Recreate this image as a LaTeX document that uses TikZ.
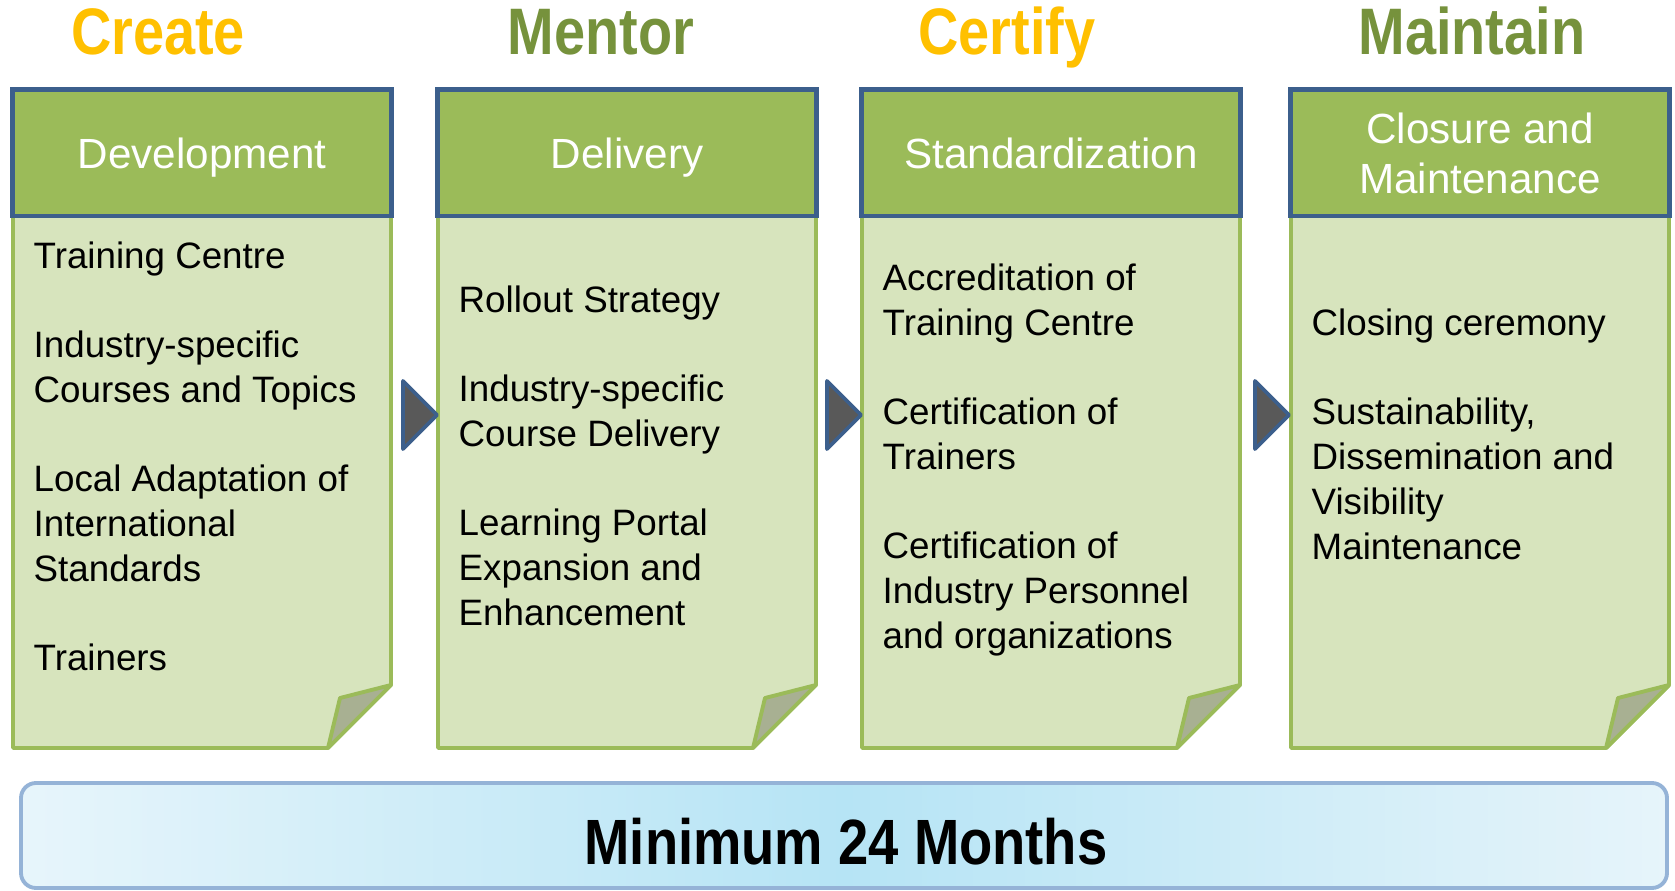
\documentclass[tikz,border=0pt]{standalone}
\usepackage{fontspec}
\usepackage{graphicx}
\setmainfont{Liberation Sans}
\definecolor{hdgreen}{RGB}{155,187,89}
\definecolor{hdblue}{RGB}{60,95,140}
\definecolor{bodygreen}{RGB}{215,228,189}
\definecolor{foldgrey}{RGB}{168,176,146}
\definecolor{ttlorange}{RGB}{255,192,0}
\definecolor{ttlgreen}{RGB}{118,146,60}
\definecolor{arrowgrey}{RGB}{89,89,89}
\definecolor{barblue}{RGB}{149,179,215}
\tikzset{
  header/.style={draw=hdblue,fill=hdgreen,line width=1.4pt,minimum width=3.78cm,minimum height=1.26cm,text=white,align=center,font=\fontsize{12}{14.2}\selectfont},
  page/.style={draw=hdgreen,fill=bodygreen,line width=1.1pt,line join=round},
  fold/.style={draw=hdgreen,fill=foldgrey,line width=1.1pt,line join=round},
  items/.style={anchor=north west,inner sep=0pt,align=left,font=\fontsize{10.45}{12.8}\selectfont},
  phase/.style={anchor=base,inner sep=0pt,font=\fontsize{18.7}{20}\selectfont\bfseries},
  pointer/.style={draw=hdblue,fill=arrowgrey,line width=1.1pt,line join=round},
  bar/.style={draw=barblue,line width=1.1pt,rounded corners=0.15cm,left color={rgb,255:red,231;green,245;blue,251},right color={rgb,255:red,230;green,244;blue,250},middle color={rgb,255:red,182;green,228;blue,245}}
}
\begin{document}
\begin{tikzpicture}[x=0.01cm,y=-0.01cm]
        \useasboundingbox (0,0) rectangle (1675,891);
        % phase titles
        \node[phase,text=ttlorange] (create) at (158,55) {\scalebox{0.85}[1]{Create}};
        \node[phase,text=ttlgreen] (mentor) at (601,55) {\scalebox{0.85}[1]{Mentor}};
        \node[phase,text=ttlorange] (certify) at (1007,55) {\scalebox{0.85}[1]{Certify}};
        \node[phase,text=ttlgreen] (maintain) at (1472,55) {\scalebox{0.85}[1]{Maintain}};
        \begin{scope}[shift={(13,0)}]
            \draw[page] (0,216) -- (378,216) -- (378,685) -- (315,748) -- (0,748) -- cycle;
            \draw[fold] (315,748) -- (327,698) -- (378,685) -- cycle;
            \node[header,text depth=0pt] (dev) at (189,153) {Development};
            \node[items] (devtxt) at (20,241) {Training Centre\\[12.5pt]
                Industry-specific\\Courses and Topics\\[12.5pt]
                Local Adaptation of\\International\\Standards\\[12.5pt]
                Trainers};
        \end{scope}
        \begin{scope}[shift={(438,0)}]
            \draw[page] (0,216) -- (378,216) -- (378,685) -- (315,748) -- (0,748) -- cycle;
            \draw[fold] (315,748) -- (327,698) -- (378,685) -- cycle;
            \node[header,text depth=0pt] (del) at (189,153) {Delivery};
            \node[items] (deltxt) at (20,285) {Rollout Strategy\\[12.5pt]
                Industry-specific\\Course Delivery\\[12.5pt]
                Learning Portal\\Expansion and\\Enhancement};
        \end{scope}
        \begin{scope}[shift={(862,0)}]
            \draw[page] (0,216) -- (378,216) -- (378,685) -- (315,748) -- (0,748) -- cycle;
            \draw[fold] (315,748) -- (327,698) -- (378,685) -- cycle;
            \node[header,text depth=0pt] (std) at (189,153) {Standardization};
            \node[items] (stdtxt) at (20,263) {Accreditation of\\Training Centre\\[12.5pt]
                Certification of\\Trainers\\[12.5pt]
                Certification of\\Industry Personnel\\and organizations};
        \end{scope}
        \begin{scope}[shift={(1291,0)}]
            \draw[page] (0,216) -- (378,216) -- (378,685) -- (315,748) -- (0,748) -- cycle;
            \draw[fold] (315,748) -- (327,698) -- (378,685) -- cycle;
            \node[header] (clo) at (189,153) {Closure and\\Maintenance};
            \node[items] (clotxt) at (20,308) {Closing ceremony\\[12.5pt]
                Sustainability,\\Dissemination and\\Visibility\\Maintenance};
        \end{scope}
        % arrows between the pages
        \draw[pointer] (403,381) -- (437,415) -- (403,449) -- cycle;
        \draw[pointer] (827,381) -- (861,415) -- (827,449) -- cycle;
        \draw[pointer] (1255,381) -- (1289,415) -- (1255,449) -- cycle;
        % duration bar
        \draw[bar] (21,783) rectangle (1667,888);
        \node[phase,font=\fontsize{18.2}{20}\selectfont\bfseries] (months) at (846,864) {\scalebox{0.85}[1]{Minimum 24 Months}};
    \end{tikzpicture}
\end{document}
